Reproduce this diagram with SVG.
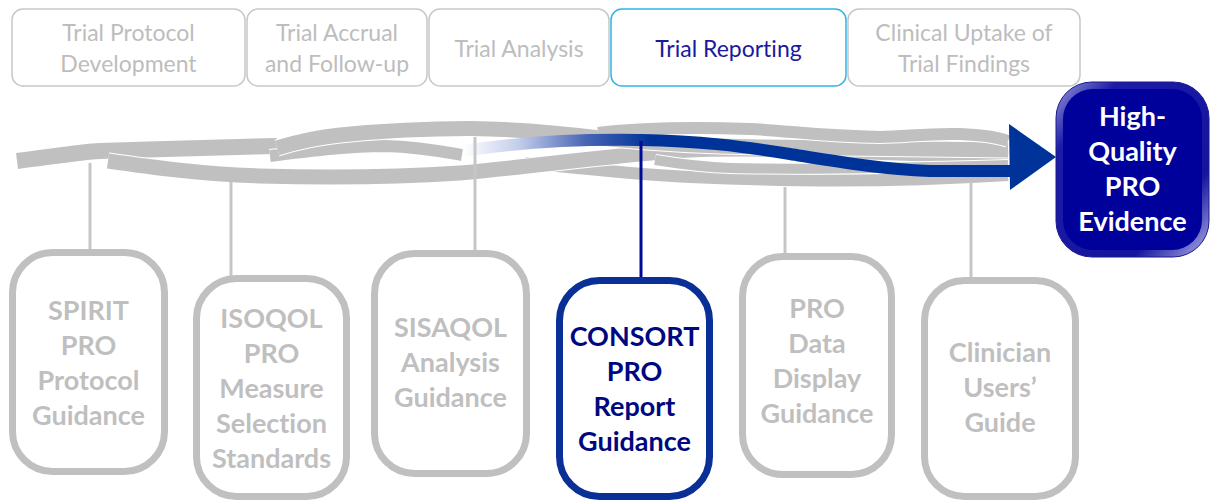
<svg xmlns="http://www.w3.org/2000/svg" width="1212" height="501" viewBox="0 0 1212 501">
<style>
text{font-variant-ligatures:none}
.phase rect{fill:#fff;stroke:#c8c8c8;stroke-width:1.5}
.phase text{font-family:Lato,"Liberation Sans",sans-serif;font-size:23px;fill:#bdbdbd;text-anchor:middle}
#phase-reporting rect{stroke:#2fb5e6}
#phase-reporting text{fill:#1a1a9c}
.node rect{fill:#fff;stroke:#c0c0c0;stroke-width:7}
.node text{font-family:Lato,"Liberation Sans",sans-serif;font-size:27px;font-weight:bold;fill:#bfbfbf;text-anchor:middle}
#node-consort rect{stroke:#0a2f96}
#node-consort text{fill:#00087f}
.rib-o{fill:none;stroke:#fff;stroke-linecap:butt}
.rib{fill:none;stroke:#c0c0c0;stroke-linecap:butt}
.vline{stroke:#c6c6c6;stroke-width:3}
#goal text{font-family:Lato,"Liberation Sans",sans-serif;font-size:27px;font-weight:bold;fill:#fff;text-anchor:middle}
</style>
<defs>
<linearGradient id="blueFade" gradientUnits="userSpaceOnUse" x1="463" y1="0" x2="650" y2="0">
<stop offset="0" stop-color="#ffffff"/>
<stop offset="0.3" stop-color="#c3cdea"/>
<stop offset="0.65" stop-color="#4a66b4"/>
<stop offset="1" stop-color="#003399"/>
</linearGradient>
<linearGradient id="bevel" x1="0" y1="0" x2="1" y2="1">
<stop offset="0" stop-color="#9a9ae0"/>
<stop offset="0.2" stop-color="#1c1ca6"/>
<stop offset="0.75" stop-color="#14149e"/>
<stop offset="1" stop-color="#b0b0ea"/>
</linearGradient>
<path id="rLow2" d="M525,163 C590,169 640,175 690,177 C780,181 880,183 1008,175"/>
<path id="rA" d="M17,161 C50,157 80,152 100,151 C160,149 230,147 277,146"/>
<path id="rB" d="M108,161 C150,167 200,174 260,176 C330,178 400,177 460,173 C530,167 610,155 690,150 C760,147 880,152 1008,158"/>
<path id="rLow3" d="M655,160 C680,164 700,167 730,168 C800,170 900,168 1008,165"/>
<path id="rMid" d="M270,156 C310,151 350,146 385,146 C420,147 445,152 462,155"/>
<path id="rC" d="M277,148 C300,141 320,137 340,135 C380,131 430,128.5 470,128.5 C520,129 560,133 600,138 C650,143 700,146 760,147 C850,148 930,149 1008,150"/>
<path id="rTop2" d="M598,133 C640,128 690,127 750,129 C790,131 820,136 880,137 C905,137 925,133 960,134 C985,135 1000,138 1008,141"/>
</defs>

<g id="phases">
<g class="phase" id="phase-protocol"><rect x="12" y="9" width="233" height="77" rx="11"/><text x="128.5" y="41">Trial Protocol</text><text x="128.5" y="72">Development</text></g>
<g class="phase" id="phase-accrual"><rect x="247" y="9" width="180" height="77" rx="11"/><text x="337" y="41">Trial Accrual</text><text x="337" y="72">and Follow-up</text></g>
<g class="phase" id="phase-analysis"><rect x="429" y="9" width="180" height="77" rx="11"/><text x="519" y="57">Trial Analysis</text></g>
<g class="phase" id="phase-reporting"><rect x="611" y="9" width="235" height="77" rx="11"/><text x="728.5" y="57">Trial Reporting</text></g>
<g class="phase" id="phase-uptake"><rect x="848" y="9" width="232" height="77" rx="11"/><text x="964" y="41">Clinical Uptake of</text><text x="964" y="72">Trial Findings</text></g>
</g>

<g id="connectors">
<use href="#rLow2" class="rib-o" stroke-width="14"/><use href="#rLow2" class="rib" stroke-width="12"/>
<use href="#rA" class="rib-o" stroke-width="18"/><use href="#rA" class="rib" stroke-width="16"/>
<use href="#rB" class="rib-o" stroke-width="17"/><use href="#rB" class="rib" stroke-width="15"/>
<use href="#rLow3" class="rib-o" stroke-width="12"/><use href="#rLow3" class="rib" stroke-width="10"/>
<use href="#rMid" class="rib-o" stroke-width="14"/><use href="#rMid" class="rib" stroke-width="12"/>
<use href="#rC" class="rib-o" stroke-width="17"/><use href="#rC" class="rib" stroke-width="15"/>
<use href="#rTop2" class="rib-o" stroke-width="14"/><use href="#rTop2" class="rib" stroke-width="12"/>

<path id="blue-arrow" d="M463,151 C520,142 580,139 641,140 C700,141 740,146 790,154 C840,162 880,169 930,171 L1012,171" fill="none" stroke="url(#blueFade)" stroke-width="12"/>
<polygon points="1009,124 1056,157 1010,190" fill="#003399"/>

<line class="vline" x1="90" y1="163" x2="90" y2="250"/>
<line class="vline" x1="231" y1="182" x2="231" y2="276"/>
<line class="vline" x1="475" y1="137" x2="475" y2="251"/>
<line x1="641" y1="141" x2="641" y2="278" stroke="#000a96" stroke-width="3"/>
<line class="vline" x1="785" y1="187" x2="785" y2="254"/>
<line class="vline" x1="971" y1="182" x2="971" y2="278"/>
</g>

<g class="node" id="node-spirit"><rect x="12.5" y="252.5" width="152" height="219" rx="40"/><text x="88.5" y="320">SPIRIT</text><text x="88.5" y="355">PRO</text><text x="88.5" y="390">Protocol</text><text x="88.5" y="425">Guidance</text></g>
<g class="node" id="node-isoqol"><rect x="196.5" y="278.5" width="150" height="218" rx="40"/><text x="271.5" y="328">ISOQOL</text><text x="271.5" y="363">PRO</text><text x="271.5" y="398">Measure</text><text x="271.5" y="433">Selection</text><text x="271.5" y="468">Standards</text></g>
<g class="node" id="node-sisaqol"><rect x="374.5" y="253.5" width="152" height="220" rx="40"/><text x="450.5" y="337">SISAQOL</text><text x="450.5" y="372">Analysis</text><text x="450.5" y="407">Guidance</text></g>
<g class="node" id="node-consort"><rect x="559.5" y="280.5" width="150" height="216" rx="40"/><text x="634.5" y="346">CONSORT</text><text x="634.5" y="381">PRO</text><text x="634.5" y="416">Report</text><text x="634.5" y="451">Guidance</text></g>
<g class="node" id="node-display"><rect x="742.5" y="256.5" width="149" height="218" rx="40"/><text x="817" y="318">PRO</text><text x="817" y="353">Data</text><text x="817" y="388">Display</text><text x="817" y="423">Guidance</text></g>
<g class="node" id="node-clinician"><rect x="924.5" y="280.5" width="151" height="216" rx="40"/><text x="1000" y="362">Clinician</text><text x="1000" y="397">Users’</text><text x="1000" y="432">Guide</text></g>

<g id="goal">
<rect x="1056" y="82" width="153" height="175" rx="36" fill="url(#bevel)" stroke="#1a1a8c" stroke-width="1"/>
<rect x="1063" y="89" width="139" height="161" rx="30" fill="#00009a"/>
<text x="1132.5" y="126">High-</text><text x="1132.5" y="161">Quality</text><text x="1132.5" y="196">PRO</text><text x="1132.5" y="231">Evidence</text>
</g>
</svg>
